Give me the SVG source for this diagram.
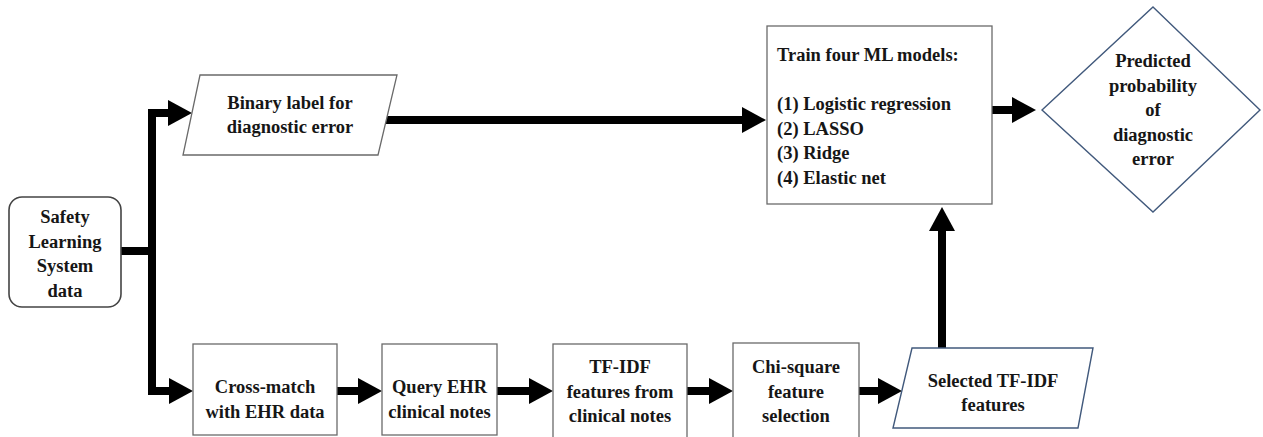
<svg xmlns="http://www.w3.org/2000/svg" width="1263" height="437" viewBox="0 0 1263 437" font-family="'Liberation Serif', Tinos, 'Times New Roman', 'DejaVu Serif', serif">
<defs>
<style>
text{font-family:'Liberation Serif', Tinos, 'Times New Roman', 'DejaVu Serif', serif;font-weight:700;font-size:18.5px;fill:#161616;}
.c{text-anchor:middle;}
.box{fill:#fff;stroke:#6a6a6a;stroke-width:1.3;}
.blue{fill:#fff;stroke:#41597c;stroke-width:1.4;}
.round{fill:#fff;stroke:#444;stroke-width:1.6;}
.conn{fill:none;stroke:#000;stroke-width:8;stroke-linejoin:miter;stroke-linecap:butt;}
</style>
<marker id="ah" markerUnits="userSpaceOnUse" markerWidth="25" markerHeight="27" refX="0" refY="13" orient="auto" viewBox="0 0 25 26">
<path d="M0,0 L24,13 L0,26 Z" fill="#000"/>
</marker>
</defs>
<rect width="1263" height="437" fill="#fff"/>

<g id="connectors">
<path class="conn" d="M121,251 H156"/>
<path class="conn" d="M152,251 V113 H168" marker-end="url(#ah)"/>
<path class="conn" d="M152,251 V391 H169" marker-end="url(#ah)"/>
<path class="conn" d="M386,120 H742" marker-end="url(#ah)"/>
<path class="conn" d="M992,110 H1012" marker-end="url(#ah)"/>
<path class="conn" d="M337,391 H358" marker-end="url(#ah)"/>
<path class="conn" d="M497,391 H529" marker-end="url(#ah)"/>
<path class="conn" d="M687,391 H709" marker-end="url(#ah)"/>
<path class="conn" d="M859,391 H878" marker-end="url(#ah)"/>
<path class="conn" d="M942,348 V231" marker-end="url(#ah)"/>
</g>

<g id="sls">
<rect class="round" x="9" y="197" width="112" height="110" rx="13" ry="13"/>
<text class="c" x="65" y="223">Safety</text>
<text class="c" x="65" y="248">Learning</text>
<text class="c" x="65" y="272">System</text>
<text class="c" x="65" y="297">data</text>
</g>

<g id="binary">
<polygon class="box" points="200,75 397,75 378,155 183,155"/>
<text class="c" x="290" y="109">Binary label for</text>
<text class="c" x="290" y="133">diagnostic error</text>
</g>

<g id="train">
<rect class="box" x="767" y="26" width="225" height="178"/>
<text x="777" y="61">Train four ML models:</text>
<text x="777" y="110">(1) Logistic regression</text>
<text x="777" y="134.5">(2) LASSO</text>
<text x="777" y="159">(3) Ridge</text>
<text x="777" y="183.5">(4) Elastic net</text>
</g>

<g id="predicted">
<polygon class="blue" points="1153,7 1260,110 1153,212 1042,110"/>
<text class="c" x="1153" y="67">Predicted</text>
<text class="c" x="1153" y="91.5">probability</text>
<text class="c" x="1153" y="116">of</text>
<text class="c" x="1153" y="140.5">diagnostic</text>
<text class="c" x="1153" y="165">error</text>
</g>

<g id="crossmatch">
<rect class="box" x="193" y="344" width="144" height="91"/>
<text class="c" x="265" y="393">Cross-match</text>
<text class="c" x="265" y="418">with EHR data</text>
</g>

<g id="query">
<rect class="box" x="382" y="344" width="115" height="91"/>
<text class="c" x="439.5" y="393">Query EHR</text>
<text class="c" x="439.5" y="418">clinical notes</text>
</g>

<g id="tfidf">
<rect class="box" x="553" y="344" width="134" height="96"/>
<text class="c" x="620" y="373">TF-IDF</text>
<text class="c" x="620" y="398">features from</text>
<text class="c" x="620" y="422">clinical notes</text>
</g>

<g id="chisquare">
<rect class="box" x="733" y="343" width="126" height="97"/>
<text class="c" x="796" y="373">Chi-square</text>
<text class="c" x="796" y="398">feature</text>
<text class="c" x="796" y="422">selection</text>
</g>

<g id="selected">
<polygon class="blue" points="912,348 1093,348 1078,428 893,428"/>
<text class="c" x="993" y="387">Selected TF-IDF</text>
<text class="c" x="993" y="411">features</text>
</g>
</svg>
